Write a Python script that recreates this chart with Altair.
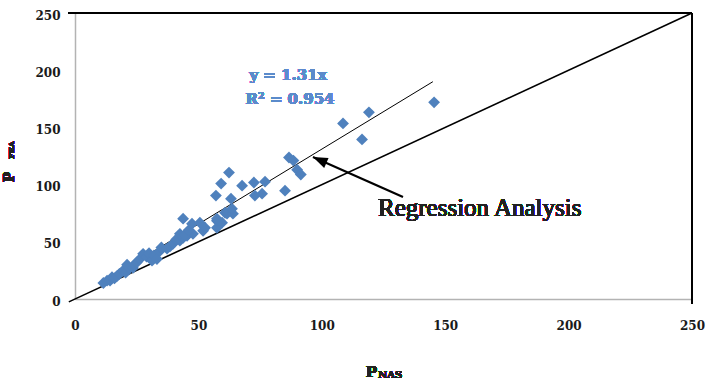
import altair as alt
import pandas as pd

# ---- data ----
nas = [11.5, 13, 14.2, 15, 16, 17, 18, 19.4, 20.5, 21.1, 22, 23.5, 24, 25, 26.3, 27.6, 29, 30,
       31.2, 32, 33.2, 34.4, 35, 37.3, 38.5, 39.7, 41, 42.5, 43.8, 45.4, 42.5, 44.5, 47.8, 46,
       51.9, 52.7, 57.5, 47.4, 50.6, 57.5, 59.6, 43.8, 57.5, 60.8, 61.6, 64, 63.6,
       57.1, 63.2, 62.4, 59.2, 67.7, 72.5, 77, 72.9, 75.8, 85.1, 86.7, 88.5, 90, 91.5,
       108.6, 119.1, 116.3, 145.5]
fea = [14, 16, 16, 19, 18, 20, 22, 24.6, 23, 30, 27, 27.2, 30, 32, 35, 39.5, 37, 40,
       33.5, 38, 35, 42, 45, 44, 46, 48.2, 52, 51, 53.5, 55.3, 57, 56, 57, 60,
       59.6, 62.3, 62.3, 65.8, 66.7, 68.4, 66.7, 70.2, 70.2, 75.4, 74.6, 74.6, 78.9,
       90.4, 87.7, 110.5, 100.9, 99.1, 101.8, 102.6, 90.4, 92.1, 94.7, 123.7, 121, 113, 108.8,
       153.5, 163.2, 139.5, 171.9]

slope = 1.31
trend_x = [12, 145]
ref_x = [-2.5, 250]
tick_values = [0, 50, 100, 150, 200, 250]
eq_lines = ["y = 1.31x", "R² = 0.954"]
arrow_tip = (96.4, 124.1)
arrow_tail = (132.9, 89.2)
annotation = "Regression Analysis"

W, H = 617, 286
blue = "#4F81BD"
serif = "DejaVu Serif"
roman = "Liberation Serif"

pts = pd.DataFrame({"x": nas, "y": fea})
trend = pd.DataFrame({"x": trend_x, "y": [slope * v for v in trend_x]})
ref = pd.DataFrame({"x": ref_x, "y": ref_x})
arrow = pd.DataFrame({"x": [arrow_tail[0]], "y": [arrow_tail[1]],
                      "x2": [arrow_tip[0]], "y2": [arrow_tip[1]]})
tip = pd.DataFrame({"x": [arrow_tip[0]], "y": [arrow_tip[1]]})

xs = alt.Scale(domain=[0, 250], nice=False)
ys = alt.Scale(domain=[0, 250], nice=False)

xaxis = alt.Axis(values=tick_values, title=None, ticks=False, grid=False,
                 domainColor="#b3b3b3", domainWidth=1.5,
                 labelFont=serif, labelFontWeight="bold", labelFontSize=12,
                 labelColor="#1a1a1a", labelPadding=21, labelFlush=False)
yaxis = alt.Axis(values=tick_values, title=None, ticks=False, grid=False,
                 domainColor="#b3b3b3", domainWidth=1.5,
                 labelFont=serif, labelFontWeight="bold", labelFontSize=12,
                 labelColor="#1a1a1a", labelPadding=15, labelFlush=False, labelOffset=2)

points = alt.Chart(pts).mark_point(shape="diamond", filled=True, size=140,
                                   color=blue, opacity=1).encode(
    x=alt.X("x:Q", scale=xs, axis=xaxis),
    y=alt.Y("y:Q", scale=ys, axis=yaxis),
)

ref_line = alt.Chart(ref).mark_line(color="black", strokeWidth=1.6, clip=False).encode(
    x=alt.X("x:Q", scale=xs), y=alt.Y("y:Q", scale=ys))
trend_line = alt.Chart(trend).mark_line(color="black", strokeWidth=1).encode(
    x=alt.X("x:Q", scale=xs), y=alt.Y("y:Q", scale=ys))

arrow_line = alt.Chart(arrow).mark_rule(color="black", strokeWidth=2.2).encode(
    x=alt.X("x:Q", scale=xs), y=alt.Y("y:Q", scale=ys), x2="x2:Q", y2="y2:Q")
arrow_head = alt.Chart(tip).mark_point(shape="M0,0L0.62,1.7L-0.62,1.7Z", filled=True,
                                       color="black", opacity=1, size=300, angle=294).encode(
    x=alt.X("x:Q", scale=xs), y=alt.Y("y:Q", scale=ys))

top_border = alt.Chart(pts).mark_rule(color="black", strokeWidth=1.5).encode(
    x=alt.value(-7), x2=alt.value(W), y=alt.value(0))
right_border = alt.Chart(pts).mark_rule(color="black", strokeWidth=1.5).encode(
    x=alt.value(W), y=alt.value(0), y2=alt.value(H + 5))

eq1 = alt.Chart(pts).mark_text(text=eq_lines[0], font=serif, fontWeight="bold", fontSize=15,
                               color="#5B8BCB", align="center", baseline="middle").encode(
    x=alt.value(213), y=alt.value(62))
eq2 = alt.Chart(pts).mark_text(text=eq_lines[1], font=serif, fontWeight="bold", fontSize=15,
                               color="#5B8BCB", align="center", baseline="middle").encode(
    x=alt.value(215), y=alt.value(86))

ann = alt.Chart(pts).mark_text(text=annotation, font=roman, fontSize=25, color="#222222",
                               align="left", baseline="alphabetic").encode(
    x=alt.value(303), y=alt.value(203))

xt1 = alt.Chart(pts).mark_text(text="P", font=serif, fontWeight="bold", fontSize=15,
                               color="#222222", align="right", baseline="alphabetic").encode(
    x=alt.value(302), y=alt.value(364))
xt2 = alt.Chart(pts).mark_text(text="NAS", font=serif, fontWeight="bold", fontSize=10,
                               color="#222222", align="left", baseline="alphabetic").encode(
    x=alt.value(303), y=alt.value(365))

yt1 = alt.Chart(pts).mark_text(text="P", font=serif, fontWeight="bold", fontSize=14, angle=270,
                               color="#222222", align="center", baseline="middle").encode(
    x=alt.value(-65), y=alt.value(164))
yt2 = alt.Chart(pts).mark_text(text="FEA", font=serif, fontWeight="bold", fontSize=8, angle=270,
                               color="#222222", align="center", baseline="middle").encode(
    x=alt.value(-63), y=alt.value(137))

chart = alt.layer(
    ref_line, trend_line, points, arrow_line, arrow_head,
    top_border, right_border, eq1, eq2, ann, xt1, xt2, yt1, yt2
).properties(
    width=W, height=H,
    autosize=alt.AutoSizeParams(type="none"),
    padding={"left": 75, "top": 13, "right": 24, "bottom": 89},
).configure_view(stroke=None).configure(background="white")

chart.save("out.html", embed_options={"renderer": "svg", "actions": False})
